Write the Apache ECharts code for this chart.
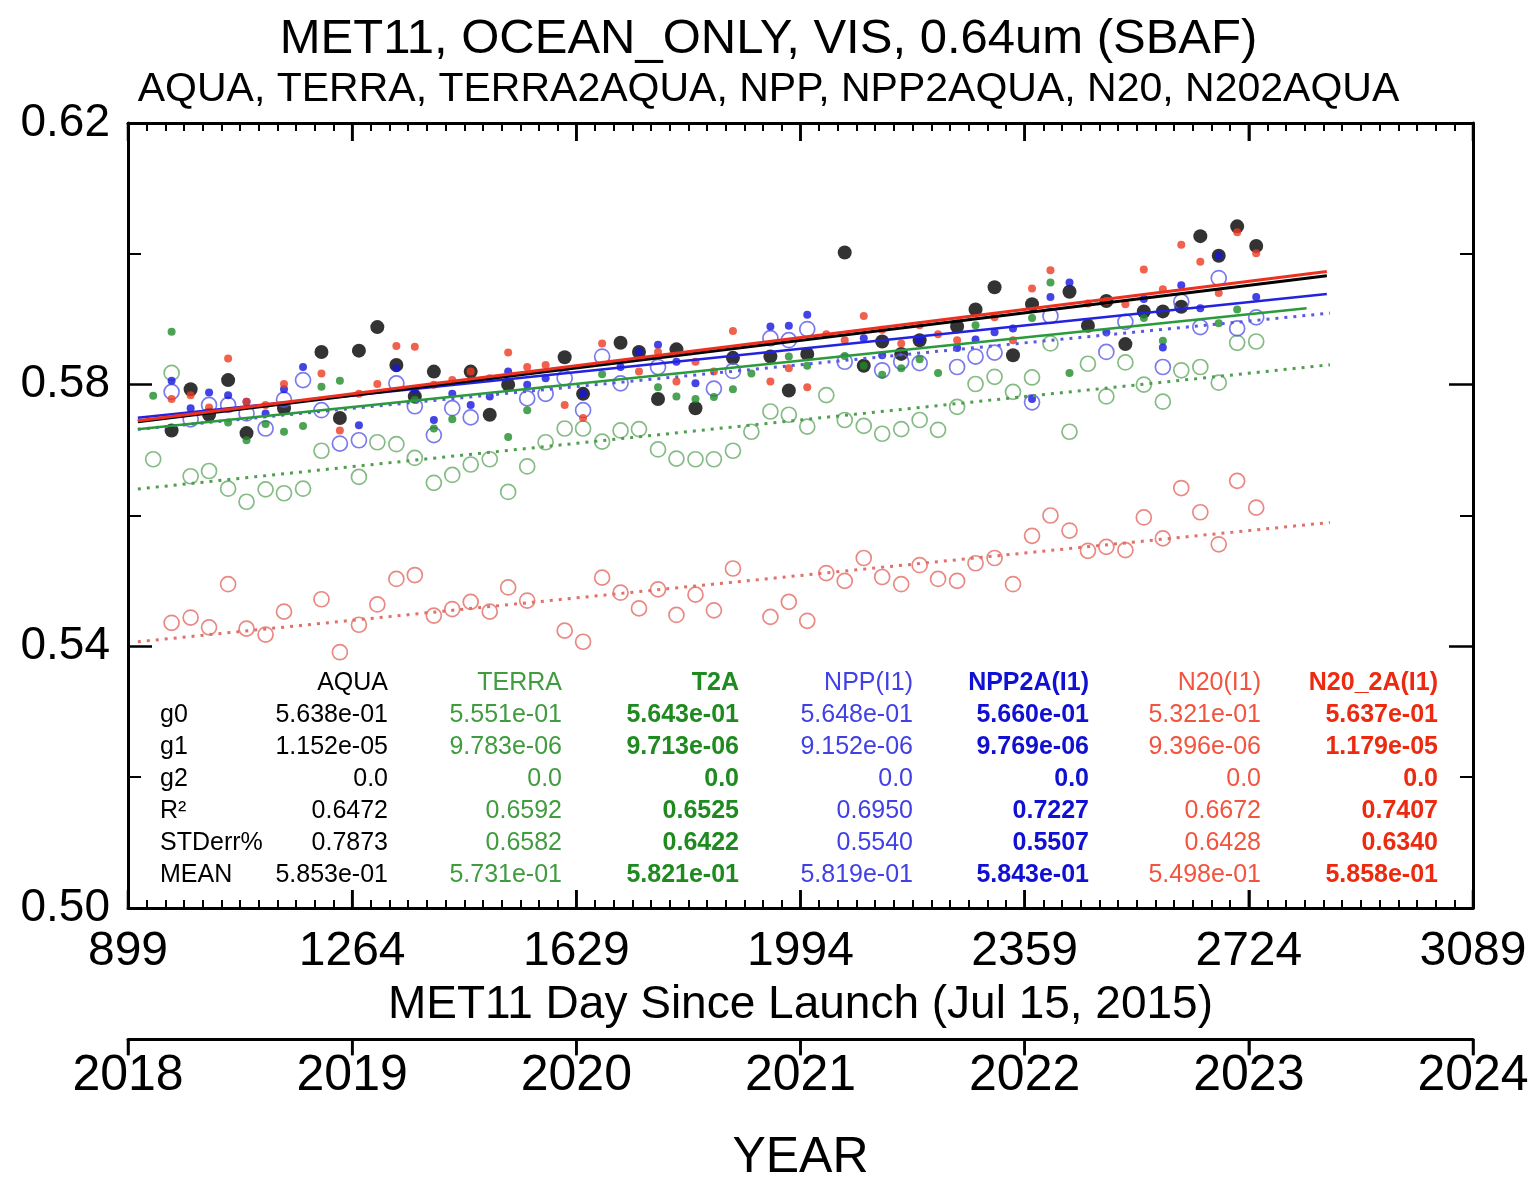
<!DOCTYPE html>
<html>
<head>
<meta charset="utf-8">
<title>MET11 OCEAN_ONLY VIS 0.64um</title>
<script src="https://cdn.jsdelivr.net/npm/echarts@6/dist/echarts.min.js"></script>
<style>
  html, body { margin: 0; padding: 0; background: #fff; }
  #container { width: 1537px; height: 1178px; }
</style>
</head>
<body>
<div id="container"></div>
<script>
// monthly sample days (MET11 day since launch)
var days = [940, 970, 1001, 1031, 1062, 1092, 1123, 1153, 1184, 1214,
  1244, 1275, 1305, 1336, 1366, 1397, 1427, 1457, 1488, 1518,
  1549, 1579, 1610, 1640, 1671, 1701, 1731, 1762, 1792, 1823,
  1853, 1884, 1914, 1945, 1975, 2005, 2036, 2066, 2097, 2127,
  2158, 2188, 2218, 2249, 2279, 2310, 2340, 2371, 2401, 2432,
  2462, 2492, 2523, 2553, 2584, 2614, 2645, 2675, 2705, 2736];

var aqua = [null, 0.5730, 0.5793, 0.5754, 0.5807, 0.5726, null, 0.5764, null, 0.5850,
  0.5749, 0.5852, 0.5888, 0.5830, 0.5782, 0.5820, null, 0.5820, 0.5754, 0.5800,
  null, null, 0.5842, 0.5786, null, 0.5864, 0.5850, 0.5778, 0.5854, 0.5764,
  null, 0.5841, null, 0.5843, 0.5791, 0.5847, null, 0.6002, 0.5829, 0.5866,
  0.5847, 0.5868, null, 0.5889, 0.5915, 0.5949, 0.5845, 0.5923, null, 0.5942,
  0.5890, 0.5928, 0.5862, 0.5912, 0.5912, 0.5919, 0.6027, 0.5997, 0.6042, 0.6012];

var terra = [0.5686, 0.5818, 0.5660, 0.5668, 0.5641, 0.5621, 0.5640, 0.5634, 0.5641, 0.5699,
  null, 0.5659, 0.5712, 0.5709, 0.5688, 0.5650, 0.5662, 0.5678, 0.5686, 0.5636,
  0.5675, 0.5712, 0.5733, 0.5733, 0.5713, 0.5730, 0.5732, 0.5701, 0.5687, 0.5686,
  0.5686, 0.5699, 0.5728, 0.5759, 0.5754, 0.5736, 0.5784, 0.5746, 0.5737, 0.5725,
  0.5732, 0.5746, 0.5731, 0.5766, 0.5801, 0.5812, 0.5789, 0.5811, 0.5863, 0.5728,
  0.5832, 0.5782, 0.5834, 0.5800, 0.5774, 0.5822, 0.5827, 0.5803, 0.5864, 0.5866];

var t2a = [0.5783, 0.5881, null, null, 0.5742, 0.5715, 0.5740, 0.5728, 0.5737, 0.5797,
  0.5806, null, null, null, 0.5777, 0.5733, 0.5747, null, null, 0.5720,
  0.5761, null, null, null, 0.5816, null, null, 0.5796, 0.5782, 0.5778,
  0.5781, 0.5793, 0.5817, null, 0.5843, 0.5829, null, 0.5844, 0.5829, 0.5815,
  0.5825, 0.5839, 0.5818, null, 0.5891, null, null, 0.5902, 0.5956, 0.5818,
  null, null, null, 0.5902, 0.5867, null, null, 0.5894, 0.5915, null];

var npp = [null, 0.5789, 0.5747, 0.5769, 0.5769, 0.5756, 0.5733, 0.5777, 0.5807, 0.5761,
  0.5710, 0.5715, null, 0.5802, 0.5767, 0.5723, 0.5764, 0.5750, null, null,
  0.5779, 0.5786, 0.5810, 0.5761, 0.5843, 0.5802, null, 0.5827, null, null,
  0.5794, 0.5821, null, 0.5871, 0.5868, 0.5885, null, 0.5835, null, 0.5822,
  0.5835, 0.5833, null, 0.5827, 0.5843, 0.5849, null, 0.5773, 0.5905, null,
  null, 0.5850, 0.5896, null, 0.5827, 0.5927, 0.5888, 0.5963, 0.5886, 0.5903];

var npp2a = [null, 0.5806, 0.5764, 0.5788, 0.5784, 0.5774, 0.5756, 0.5793, 0.5827, null,
  null, 0.5738, null, 0.5825, 0.5792, 0.5746, 0.5786, 0.5769, 0.5782, 0.5820,
  0.5800, 0.5810, null, 0.5786, null, 0.5827, 0.5850, 0.5861, 0.5835, 0.5802,
  null, null, null, 0.5889, 0.5890, 0.5907, null, null, 0.5871, 0.5845,
  null, 0.5868, null, 0.5856, 0.5869, 0.5880, 0.5886, 0.5778, 0.5934, 0.5956,
  null, 0.5880, null, 0.5931, 0.5857, 0.5952, 0.5917, 0.5997, null, 0.5934];

var n20 = [null, 0.5436, 0.5444, 0.5429, 0.5495, 0.5427, 0.5418, 0.5453, null, 0.5472,
  0.5391, 0.5433, 0.5464, 0.5503, 0.5509, 0.5447, 0.5457, 0.5468, 0.5453, 0.5490,
  0.5470, null, 0.5424, 0.5407, 0.5505, 0.5482, 0.5458, 0.5487, 0.5448, 0.5479,
  0.5455, 0.5519, null, 0.5445, 0.5468, 0.5439, 0.5512, 0.5500, 0.5535, 0.5506,
  0.5495, 0.5524, 0.5503, 0.5500, 0.5527, 0.5535, 0.5495, 0.5569, 0.5600, 0.5577,
  0.5546, 0.5552, 0.5547, 0.5597, 0.5565, 0.5642, 0.5605, 0.5556, 0.5653, 0.5612];

var n202a = [null, 0.5778, 0.5784, 0.5765, 0.5840, 0.5774, 0.5769, 0.5801, null, 0.5817,
  0.5730, 0.5786, 0.5801, 0.5859, 0.5858, 0.5800, 0.5807, 0.5820, 0.5810, 0.5849,
  0.5827, 0.5830, 0.5769, 0.5749, 0.5863, null, 0.5820, 0.5850, 0.5805, 0.5835,
  0.5820, 0.5882, null, 0.5805, 0.5825, 0.5796, 0.5877, 0.5868, 0.5905, 0.5884,
  0.5863, 0.5891, 0.5877, 0.5868, null, 0.5903, 0.5868, 0.5947, 0.5975, null,
  0.5924, 0.5928, 0.5923, 0.5976, 0.5946, 0.6014, 0.5988, 0.5940, 0.6033, 0.6001];

// regression table (order: AQUA, TERRA, T2A, NPP, NPP2A, N20, N20_2A)
var colNames = ['AQUA', 'TERRA', 'T2A', 'NPP(I1)', 'NPP2A(I1)', 'N20(I1)', 'N20_2A(I1)'];
var g0 = [5.638e-01, 5.551e-01, 5.643e-01, 5.648e-01, 5.660e-01, 5.321e-01, 5.637e-01];
var g1 = [1.152e-05, 9.783e-06, 9.713e-06, 9.152e-06, 9.769e-06, 9.396e-06, 1.179e-05];
var g0Txt = ['5.638e-01', '5.551e-01', '5.643e-01', '5.648e-01', '5.660e-01', '5.321e-01', '5.637e-01'];
var g1Txt = ['1.152e-05', '9.783e-06', '9.713e-06', '9.152e-06', '9.769e-06', '9.396e-06', '1.179e-05'];
var g2Txt = ['0.0', '0.0', '0.0', '0.0', '0.0', '0.0', '0.0'];
var r2Txt = ['0.6472', '0.6592', '0.6525', '0.6950', '0.7227', '0.6672', '0.7407'];
var errTxt = ['0.7873', '0.6582', '0.6422', '0.5540', '0.5507', '0.6428', '0.6340'];
var meanTxt = ['5.853e-01', '5.731e-01', '5.821e-01', '5.819e-01', '5.843e-01', '5.498e-01', '5.858e-01'];
var fitStart = [915, 915, 915, 915, 915, 915, 915];
var fitEnd = [2851, 2856, 2818, 2856, 2851, 2856, 2851];

// tick values
var dayTicks = [899, 1264, 1629, 1994, 2359, 2724, 3089];
var yearTicks = [2018, 2019, 2020, 2021, 2022, 2023, 2024];

var X0 = 899, Y0 = 0.50;
var FONT = 'Liberation Sans, Arial, Helvetica, sans-serif';

(function () {
  var dom = document.getElementById('container');
  var myChart = echarts.init(dom);

  var pts = function (arr) {
    var out = [];
    for (var i = 0; i < days.length; i++) {
      if (arr[i] != null) out.push([days[i] - X0, arr[i] - Y0]);
    }
    return out;
  };
  var fit = function (i) {
    return [[fitStart[i] - X0, g0[i] + g1[i] * fitStart[i] - Y0],
            [fitEnd[i] - X0, g0[i] + g1[i] * fitEnd[i] - Y0]];
  };

  var colColor = ['#000000', '#3f9c3f', '#1f8a1f', '#4040e6', '#1010d2', '#f2543e', '#ec2a10'];
  var colBold = [false, false, true, false, true, false, true];
  var colRight = [388, 562, 739, 913, 1089, 1261, 1438];
  var rowY = [683, 715, 747, 779, 811, 843, 875];
  var rowLabels = ['g0', 'g1', 'g2', 'R²', 'STDerr%', 'MEAN'];
  var rows = [g0Txt, g1Txt, g2Txt, r2Txt, errTxt, meanTxt];

  var graphics = [];
  rowLabels.forEach(function (lab, r) {
    graphics.push({ type: 'text', x: 160, y: rowY[r + 1],
      style: { text: lab, fill: '#000', font: '25px ' + FONT, textAlign: 'left', textVerticalAlign: 'middle' } });
  });
  colNames.forEach(function (name, c) {
    var f = (colBold[c] ? 'bold ' : '') + '25px ' + FONT;
    graphics.push({ type: 'text', x: colRight[c], y: rowY[0],
      style: { text: name, fill: colColor[c], font: f, textAlign: 'right', textVerticalAlign: 'middle' } });
    rows.forEach(function (row, r) {
      graphics.push({ type: 'text', x: colRight[c], y: rowY[r + 1],
        style: { text: row[c], fill: colColor[c], font: f, textAlign: 'right', textVerticalAlign: 'middle' } });
    });
  });

  var circ = function (name, data, col) {
    return { name: name, type: 'scatter', data: data, symbol: 'circle', symbolSize: 15,
      itemStyle: { color: 'rgba(255,255,255,0)', borderColor: col, borderWidth: 1.7 }, z: 3 };
  };
  var dot = function (name, data, col, size, z) {
    return { name: name, type: 'scatter', data: data, symbol: 'circle', symbolSize: size,
      itemStyle: { color: col }, z: z };
  };
  var line = function (i, col, dotted, w) {
    return { name: colNames[i] + ' fit', type: 'line', data: fit(i), symbol: 'none', z: 6,
      lineStyle: { color: col, width: w, type: dotted ? [3, 6] : 'solid', cap: 'butt' } };
  };

  var boxLine = function () { return { show: true, onZero: false, lineStyle: { color: '#000', width: 3 } }; };
  var tick = function (inside, len) { return { show: true, inside: inside, length: len, lineStyle: { color: '#000', width: 2.5 } }; };
  var minor = function (n, len) { return { show: true, splitNumber: n, length: len, lineStyle: { color: '#000', width: 2 } }; };
  var txt = function (size, fmt) {
    var o = { fontSize: size, color: '#000', fontFamily: FONT };
    if (fmt) o.formatter = fmt;
    return o;
  };

  var option = {
    animation: false,
    backgroundColor: '#fff',
    title: [
      { text: 'MET11, OCEAN_ONLY, VIS, 0.64um (SBAF)', left: 'center', top: 10,
        textStyle: { fontSize: 49, fontWeight: 'normal', color: '#000', fontFamily: FONT } },
      { text: 'AQUA, TERRA, TERRA2AQUA, NPP, NPP2AQUA, N20, N202AQUA', left: 'center', top: 64,
        textStyle: { fontSize: 41, fontWeight: 'normal', color: '#000', fontFamily: FONT } }
    ],
    grid: [
      { left: 128, top: 123, width: 1345, height: 785, show: false },
      { left: 128, top: 1039, width: 1345, height: 1, show: false }
    ],
    xAxis: [
      { type: 'value', gridIndex: 0, position: 'bottom', min: 0, max: 2190, interval: 365,
        axisLine: boxLine(), axisTick: tick(true, 18), minorTick: minor(12, 8),
        splitLine: { show: false },
        axisLabel: Object.assign(txt(48, function (v) { return String(Math.round(v + X0)); }), { margin: 20 }),
        name: 'MET11 Day Since Launch (Jul 15, 2015)', nameLocation: 'middle', nameGap: 74,
        nameTextStyle: txt(46) },
      { type: 'value', gridIndex: 0, position: 'top', min: 0, max: 2190, interval: 365,
        axisLine: boxLine(), axisTick: tick(true, 18), minorTick: minor(12, 8),
        splitLine: { show: false }, axisLabel: { show: false } },
      { type: 'value', gridIndex: 1, position: 'bottom', min: 2018, max: 2024, interval: 1,
        axisLine: boxLine(), axisTick: tick(false, 16),
        splitLine: { show: false },
        axisLabel: Object.assign(txt(50, function (v) { return String(v); }), { margin: 12 }),
        name: 'YEAR', nameLocation: 'middle', nameGap: 94,
        nameTextStyle: txt(50) }
    ],
    yAxis: [
      { type: 'value', gridIndex: 0, position: 'left', min: 0, max: 0.12, interval: 0.04,
        axisLine: boxLine(), axisTick: tick(true, 24), minorTick: minor(2, 13),
        splitLine: { show: false },
        axisLabel: Object.assign(txt(46, function (v) { return (v + Y0).toFixed(2); }), { margin: 18 }) },
      { type: 'value', gridIndex: 0, position: 'right', min: 0, max: 0.12, interval: 0.04,
        axisLine: boxLine(), axisTick: tick(true, 24), minorTick: minor(2, 13),
        splitLine: { show: false }, axisLabel: { show: false } },
      { type: 'value', gridIndex: 1, show: false, min: 0, max: 1 }
    ],
    graphic: graphics,
    series: [
      dot('AQUA', pts(aqua), '#000000', 14, 2),
      circ('TERRA', pts(terra), '#66aa66'),
      circ('NPP(I1)', pts(npp), '#5a5ae6'),
      circ('N20(I1)', pts(n20), '#e46c64'),
      dot('T2A', pts(t2a), '#1e8c28', 8, 4),
      dot('NPP2A(I1)', pts(npp2a), '#1414e0', 8, 4),
      dot('N20_2A(I1)', pts(n202a), '#ee3b22', 8, 4),
      line(1, '#4f9f4f', true, 3),
      line(3, '#5a5ae0', true, 3),
      line(5, '#e07068', true, 3),
      line(2, '#2a9a3a', false, 2.5),
      line(4, '#2222e0', false, 2.5),
      line(0, '#000000', false, 3),
      line(6, '#ee3020', false, 3)
    ]
  };

  if (option && typeof option === 'object') {
    myChart.setOption(option, true);
  }

  // major ticks on the day and year axes, placed through the axes' own scales
  var tickLines = [];
  var seg = function (x1, y1, x2, y2) {
    tickLines.push({ type: 'line', z: 100, silent: true,
      shape: { x1: x1, y1: y1, x2: x2, y2: y2 },
      style: { stroke: '#000', lineWidth: 2.5 } });
  };
  dayTicks.forEach(function (d) {
    var b = myChart.convertToPixel({ xAxisIndex: 0, yAxisIndex: 0 }, [d - X0, 0]);
    var t = myChart.convertToPixel({ xAxisIndex: 0, yAxisIndex: 0 }, [d - X0, 0.12]);
    seg(b[0], b[1], b[0], b[1] - 18);
    seg(t[0], t[1], t[0], t[1] + 18);
  });
  yearTicks.forEach(function (y) {
    var p = myChart.convertToPixel({ xAxisIndex: 2, yAxisIndex: 2 }, [y, 0]);
    seg(p[0], p[1], p[0], p[1] + 16);
  });
  myChart.setOption({ graphic: graphics.concat(tickLines) });
})();
</script>
</body>
</html>
